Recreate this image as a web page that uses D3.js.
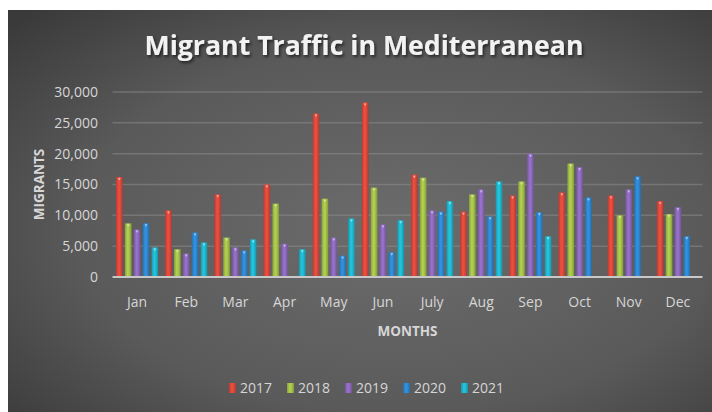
<!DOCTYPE html>
<html><head><meta charset="utf-8">
<script src="https://cdn.jsdelivr.net/npm/d3@7"></script>
<style>
html,body{margin:0;padding:0;background:#fff;}
svg{display:block;}
</style></head>
<body>
<svg id="chart" width="712" height="412"></svg>
<script>
const months = ["Jan","Feb","Mar","Apr","May","Jun","July","Aug","Sep","Oct","Nov","Dec"];
const years = ["2017","2018","2019","2020","2021"];
const v2017 = [16200,10800,13400,15000,26500,28300,16600,10600,13200,13700,13200,12300];
const v2018 = [8700,4500,6400,11900,12700,14500,16100,13400,15500,18400,10000,10200];
const v2019 = [7700,3800,4800,5400,6400,8500,10800,14200,20000,17800,14200,11300];
const v2020 = [8700,7200,4300,0,3450,4000,10600,9800,10500,12900,16300,6600];
const v2021 = [4800,5600,6100,4500,9500,9200,12300,15500,6600,0,0,0];
const yTicks = [0,5000,10000,15000,20000,25000,30000];
const colors = ["#d9483b","#a3bf48","#8b68ba","#2e86cf","#1fb4cc"];
const series = [v2017,v2018,v2019,v2020,v2021];

const svg = d3.select("#chart");
const defs = svg.append("defs");

// background gradient
const bg = defs.append("radialGradient").attr("id","bg")
  .attr("cx","0.55").attr("cy","0.55").attr("r","0.75");
bg.append("stop").attr("offset","0%").attr("stop-color","#6c6c6c");
bg.append("stop").attr("offset","60%").attr("stop-color","#5a5a5a");
bg.append("stop").attr("offset","100%").attr("stop-color","#3a3a3a");

// bar gradients
colors.forEach((c,i)=>{
  const g = defs.append("linearGradient").attr("id","bar"+i)
    .attr("x1","0").attr("x2","1").attr("y1","0").attr("y2","0");
  const col = d3.color(c);
  g.append("stop").attr("offset","0%").attr("stop-color",col.darker(0.5));
  g.append("stop").attr("offset","40%").attr("stop-color",col.brighter(0.25));
  g.append("stop").attr("offset","60%").attr("stop-color",col.brighter(0.15));
  g.append("stop").attr("offset","100%").attr("stop-color",col.darker(0.6));
});

const sh = defs.append("filter").attr("id","shadow").attr("x","-10%").attr("y","-30%").attr("width","120%").attr("height","160%");
sh.append("feDropShadow").attr("dx",1.5).attr("dy",2).attr("stdDeviation",1.5).attr("flood-color","#000").attr("flood-opacity",0.6);

svg.append("rect").attr("x",8).attr("y",10).attr("width",704).attr("height",402).attr("fill","url(#bg)");

const font = "'Open Sans', 'Noto Sans', sans-serif";
const x = d3.scaleBand().domain(months).range([112.5,702.5]).paddingInner(0).paddingOuter(0);
const x1 = d3.scaleBand().domain(years).range([3.5, x.bandwidth()-3.5]).paddingInner(0.25);
const y = d3.scaleLinear().domain([0,30000]).range([277,92]);

// title
svg.append("text").attr("x",364).attr("y",55).attr("text-anchor","middle")
  .attr("font-family",font).attr("font-weight","bold").attr("font-size",26)
  .attr("fill","#f2f2f2").attr("filter","url(#shadow)")
  .attr("textLength",439).attr("lengthAdjust","spacingAndGlyphs")
  .text("Migrant Traffic in Mediterranean");

// gridlines
svg.append("g").selectAll("line").data(yTicks.filter(d=>d>0)).join("line")
  .attr("x1",112.5).attr("x2",702.5).attr("y1",d=>y(d)).attr("y2",d=>y(d))
  .attr("stroke","#8a8a8a").attr("stroke-opacity",0.55).attr("stroke-width",1.5);

// y axis
const yAxis = svg.append("g").attr("transform","translate(98,0)")
  .call(d3.axisLeft(y).tickValues(yTicks).tickSize(0).tickPadding(0).tickFormat(d3.format(",")));
yAxis.select(".domain").remove();
yAxis.selectAll("text").attr("font-family",font).attr("font-size",14).attr("fill","#d6d6d6");

// bars
const groups = svg.append("g").selectAll("g").data(months).join("g")
  .attr("transform",d=>`translate(${x(d)},0)`);
groups.selectAll("rect").data((m,mi)=>years.map((yr,i)=>({yr,i,v:series[i][mi]})).filter(d=>d.v>0))
  .join("rect")
  .attr("x",d=>x1(d.yr)).attr("width",x1.bandwidth())
  .attr("y",d=>y(d.v)).attr("height",d=>y(0)-y(d.v))
  .attr("fill",d=>`url(#bar${d.i})`);
groups.selectAll("path.cap").data((m,mi)=>years.map((yr,i)=>({yr,i,v:series[i][mi]})).filter(d=>d.v>0))
  .join("path").attr("class","cap")
  .attr("d",d=>{const bx=x1(d.yr), w=x1.bandwidth(), ty=y(d.v);
     return `M${bx+w*0.3},${ty+1}L${bx+w*0.7},${ty+1}L${bx+w*0.5},${ty+3.5}Z`;})
  .attr("fill","#ffffff").attr("fill-opacity",0.55);

// x axis baseline
svg.append("line").attr("x1",112.5).attr("x2",702.5).attr("y1",y(0)).attr("y2",y(0))
  .attr("stroke","#c8c8c8").attr("stroke-width",2);

const xAxis = svg.append("g").attr("transform",`translate(0,${y(0)})`)
  .call(d3.axisBottom(x).tickSize(0).tickPadding(0));
xAxis.select(".domain").remove();
xAxis.selectAll("text").attr("font-family",font).attr("font-size",14).attr("fill","#d6d6d6")
  .attr("dy",null).attr("y",30);

// axis titles
svg.append("text").attr("x",407.5).attr("y",336).attr("text-anchor","middle")
  .attr("font-family",font).attr("font-weight","bold").attr("font-size",13.5).attr("fill","#d6d6d6")
  .text("MONTHS");
svg.append("text").attr("transform","translate(44,184.5) rotate(-90)").attr("text-anchor","middle")
  .attr("font-family",font).attr("font-weight","bold").attr("font-size",13.5).attr("fill","#d6d6d6")
  .text("MIGRANTS");

// legend
const lg = svg.append("g").selectAll("g").data(years).join("g")
  .attr("transform",(d,i)=>`translate(${229+i*58},383)`);
lg.append("rect").attr("width",7).attr("height",10).attr("fill",(d,i)=>`url(#bar${i})`);
lg.append("text").attr("x",11).attr("y",10).attr("font-family",font).attr("font-size",14)
  .attr("fill","#d6d6d6").text(d=>d);
</script>
</body></html>
